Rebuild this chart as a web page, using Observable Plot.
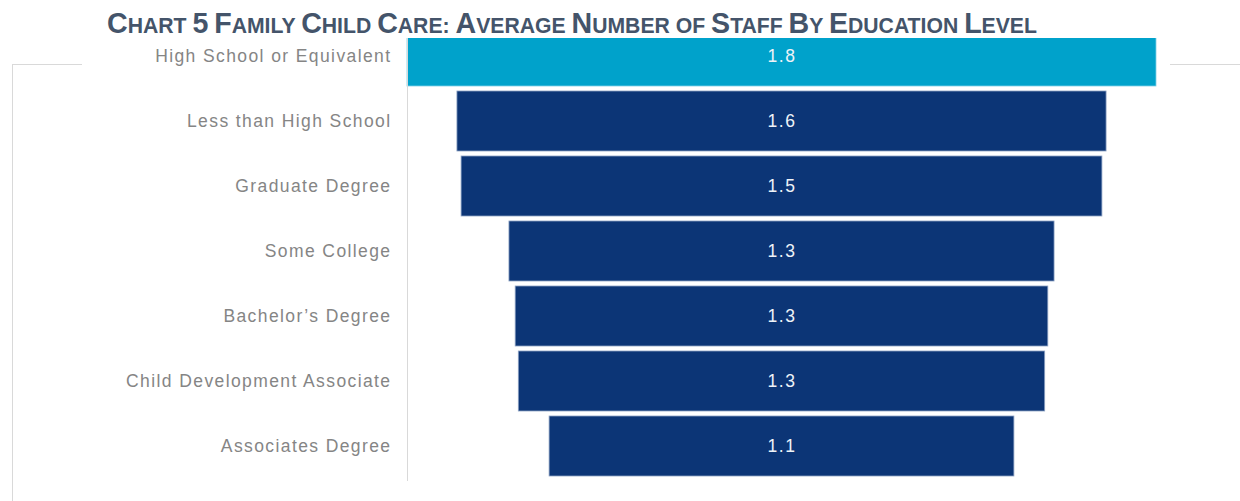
<!DOCTYPE html>
<html>
<head>
<meta charset="utf-8">
<script src="https://cdn.jsdelivr.net/npm/d3@7"></script>
<script src="https://cdn.jsdelivr.net/npm/@observablehq/plot@0.6"></script>
<style>
  body { margin: 0; background: #fff; }
  #wrap { position: relative; width: 1240px; height: 501px; overflow: hidden; font-family: "Liberation Sans", Arial, sans-serif; }
  #title { position: absolute; left: 0; top: 0; width: 1240px; height: 38px; background: #fff; z-index: 3; }
  #title div { position: absolute; left: 107px; top: 9px; line-height: 28px; font-weight: bold; color: #44546A; white-space: nowrap; }
  #title .b { font-size: 28.6px; }
  #title .s { font-size: 21.2px; }
  .fr { position: absolute; background: #d9d9d9; z-index: 0; }
  #chart { position: absolute; left: 0; top: 0; z-index: 1; }
  #chart g[aria-label="y-axis tick label"] text { letter-spacing: 1.4px; }
  #chart g[aria-label="text"] text { letter-spacing: 1.5px; }
</style>
</head>
<body>
<div id="wrap">
  <div class="fr" style="left:12px;top:64px;width:70px;height:1px"></div>
  <div class="fr" style="left:1170px;top:64px;width:70px;height:1px"></div>
  <div class="fr" style="left:12px;top:64px;width:1px;height:437px"></div>
  <div id="chart"></div>
  <div id="title"><div id="ttext"></div></div>
</div>
<script>
const titleText = "Chart 5 Family Child Care: Average Number of Staff By Education Level";
const categories = [
  "High School or Equivalent",
  "Less than High School",
  "Graduate Degree",
  "Some College",
  "Bachelor\u2019s Degree",
  "Child Development Associate",
  "Associates Degree"
];
const values = [1.80, 1.56, 1.54, 1.31, 1.28, 1.265, 1.117];

// small-caps title built by hand (big initial letters, smaller uppercase rest)
const tdiv = document.getElementById("ttext");
titleText.split(" ").forEach((w, i) => {
  if (i > 0) { const sp = document.createElement("span"); sp.className = "s"; sp.textContent = " "; tdiv.appendChild(sp); }
  const big = /[A-Z0-9]/.test(w[0]);
  const a = document.createElement("span");
  a.className = big ? "b" : "s";
  a.textContent = w[0].toUpperCase();
  tdiv.appendChild(a);
  if (w.length > 1) {
    const b = document.createElement("span");
    b.className = "s";
    b.textContent = w.slice(1).toUpperCase();
    tdiv.appendChild(b);
  }
});

const data = categories.map((c, i) => ({cat: c, v: values[i], first: i === 0}));
const m = d3.max(values);
const fmt = d3.format(".1f");

const plot = Plot.plot({
  width: 1240,
  height: 501,
  marginTop: 22,
  marginBottom: 21,
  marginLeft: 407,
  marginRight: 84,
  style: {fontFamily: "'Liberation Sans', Arial, sans-serif", fontSize: "17.5px", color: "#858585", background: "transparent"},
  x: {domain: [-m / 2, m / 2], axis: null},
  y: {domain: categories, paddingInner: 0.08, paddingOuter: 0.04, label: null, axis: null},
  marks: [
    Plot.barX(data, {
      y: "cat",
      x1: d => -d.v / 2,
      x2: d => d.v / 2,
      fill: d => d.first ? "#00A2CB" : "#0C3576",
      stroke: d => d.first ? "#7fd0e6" : "#8da2c4",
      strokeWidth: 0.8
    }),
    Plot.frame({anchor: "left", stroke: "#d9d9d9"}),
    Plot.axisY({tickSize: 0, tickPadding: 16, fill: "#858585", fontSize: 17.5}),
    Plot.text(data, {
      y: "cat",
      x: d => d.v / 2 - d.v / 2,
      text: d => fmt(d.v),
      fill: "#eef3f8",
      fontSize: 17.5
    })
  ]
});
document.getElementById("chart").appendChild(plot);
</script>
</body>
</html>
